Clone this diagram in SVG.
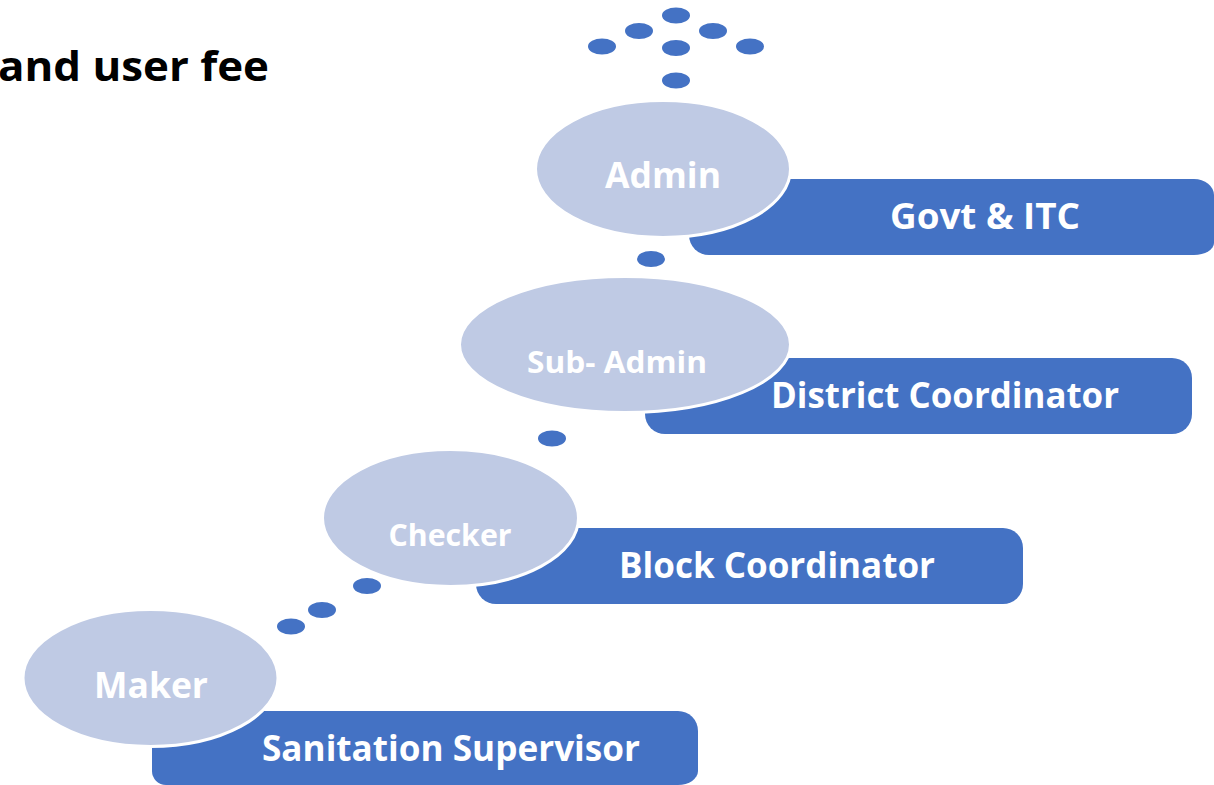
<svg xmlns="http://www.w3.org/2000/svg" width="1214" height="785" viewBox="0 0 1214 785">
<style>
text{font-family:"Open Sans","Noto Sans","Liberation Sans",sans-serif;font-weight:700;fill:#fff;text-anchor:middle}
.dot{fill:#4472c4}
.bar{fill:#4472c4}
.oval{fill:#bfcae4;stroke:#fff;stroke-width:3}
.t{font-size:36px}
.s{font-size:31px}
</style>
<rect width="1214" height="785" fill="#fff"/>
<text x="-2" y="81" textLength="271" lengthAdjust="spacingAndGlyphs" style="fill:#000;text-anchor:start;font-size:41px">and user fee</text>
<g id="connectors">
<ellipse class="dot" cx="602" cy="46.500" rx="14" ry="8"/>
<ellipse class="dot" cx="639" cy="31" rx="14" ry="8"/>
<ellipse class="dot" cx="676" cy="15.500" rx="14" ry="8"/>
<ellipse class="dot" cx="713" cy="31" rx="14" ry="8"/>
<ellipse class="dot" cx="750" cy="46.500" rx="14" ry="8"/>
<ellipse class="dot" cx="676" cy="48" rx="14" ry="8"/>
<ellipse class="dot" cx="676" cy="80.500" rx="14" ry="8"/>
<ellipse class="dot" cx="651" cy="259" rx="14" ry="8"/>
<ellipse class="dot" cx="552" cy="438.500" rx="14" ry="8"/>
<ellipse class="dot" cx="367" cy="586" rx="14" ry="8"/>
<ellipse class="dot" cx="322" cy="610" rx="14" ry="8"/>
<ellipse class="dot" cx="291" cy="626.500" rx="14" ry="8"/>
</g>
<g id="admin">
<path class="bar" d="M689 179H1194A20 16 0 0 1 1214 195V243A20 12 0 0 1 1194 255H709A20 20 0 0 1 689 235Z"/>
<text class="t" x="985" y="229" textLength="190" lengthAdjust="spacingAndGlyphs">Govt &amp; ITC</text>
<ellipse class="oval" cx="663" cy="169" rx="127.500" ry="68.500"/>
<text class="t" x="663" y="188" textLength="116" lengthAdjust="spacingAndGlyphs">Admin</text>
</g>
<g id="sub-admin">
<path class="bar" d="M645 358H1172A20 20 0 0 1 1192 378V414A20 20 0 0 1 1172 434H665A20 20 0 0 1 645 414Z"/>
<text class="t" x="945" y="408" textLength="348" lengthAdjust="spacingAndGlyphs">District Coordinator</text>
<ellipse class="oval" cx="625" cy="344.500" rx="165.500" ry="68"/>
<text class="s" x="617" y="373" textLength="180" lengthAdjust="spacingAndGlyphs">Sub- Admin</text>
</g>
<g id="checker">
<path class="bar" d="M476 528H1003A20 20 0 0 1 1023 548V584A20 20 0 0 1 1003 604H496A20 20 0 0 1 476 584Z"/>
<text class="t" x="777" y="578" textLength="316" lengthAdjust="spacingAndGlyphs">Block Coordinator</text>
<ellipse class="oval" cx="450.500" cy="518" rx="128" ry="68.500"/>
<text class="s" x="450" y="546" textLength="123" lengthAdjust="spacingAndGlyphs">Checker</text>
</g>
<g id="maker">
<path class="bar" d="M152 711H678A20 20 0 0 1 698 731V771A20 14 0 0 1 678 785H166A14 14 0 0 1 152 771Z"/>
<text class="t" x="451" y="761" textLength="378" lengthAdjust="spacingAndGlyphs">Sanitation Supervisor</text>
<ellipse class="oval" cx="150.500" cy="678" rx="127.500" ry="68.500"/>
<text class="t" x="151" y="698" textLength="114" lengthAdjust="spacingAndGlyphs">Maker</text>
</g>
</svg>
